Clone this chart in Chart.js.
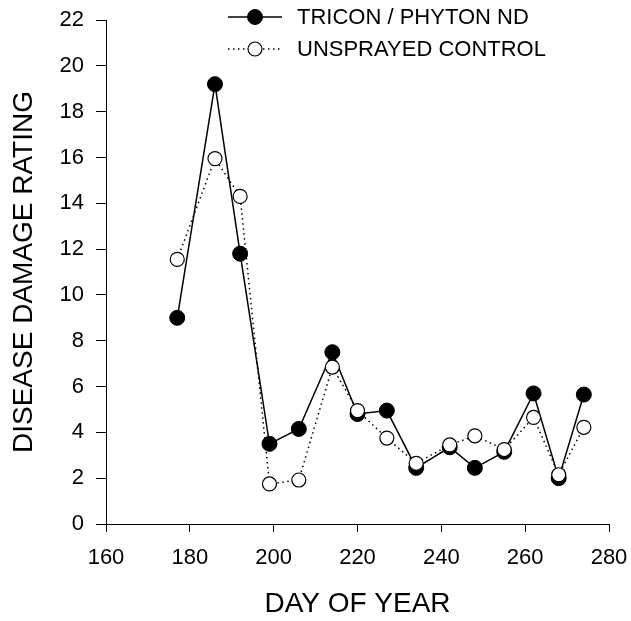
<!DOCTYPE html>
<html>
<head>
<meta charset="utf-8">
<script src="https://cdn.jsdelivr.net/npm/chart.js@4/dist/chart.umd.min.js"></script>
<style>
  body { margin: 0; background: #fff; }
  #wrap { width: 631px; height: 621px; }
</style>
</head>
<body>
<div id="wrap"><canvas id="chart" width="631" height="621"></canvas></div>
<script>
// sampling days and ratings for both treatments
var days = [177, 186, 192, 199, 206, 214, 220, 227, 234, 242, 248, 255, 262, 268, 274];
var tricon = [9.0, 19.2, 11.8, 3.5, 4.15, 7.5, 4.8, 4.95, 2.45, 3.35, 2.45, 3.15, 5.7, 2.0, 5.65];
var control = [11.55, 15.95, 14.3, 1.75, 1.92, 6.85, 4.95, 3.75, 2.65, 3.45, 3.85, 3.25, 4.65, 2.15, 4.22];

var xTicks = [160, 180, 200, 220, 240, 260, 280];
var yTicks = [0, 2, 4, 6, 8, 10, 12, 14, 16, 18, 20, 22];

function points(values) {
  return days.map(function (d, i) { return { x: d, y: values[i] }; });
}

Chart.defaults.font.family = "'Liberation Sans', Arial, sans-serif";
Chart.defaults.color = '#000';

// legend drawn by hand: short line sample with marker, then label
var legendKey = {
  id: 'legendKey',
  afterDraw: function (chart) {
    var ctx = chart.ctx;
    var x0 = 228, x1 = 282, tx = 297;
    var rows = [17, 49];
    chart.data.datasets.forEach(function (ds, i) {
      var y = rows[i];
      ctx.save();
      ctx.strokeStyle = ds.borderColor;
      ctx.lineWidth = ds.borderWidth;
      ctx.setLineDash(ds.borderDash || []);
      ctx.beginPath();
      ctx.moveTo(x0, y);
      ctx.lineTo(x1, y);
      ctx.stroke();
      ctx.setLineDash([]);
      ctx.beginPath();
      ctx.arc((x0 + x1) / 2, y, ds.pointRadius, 0, Math.PI * 2);
      ctx.fillStyle = ds.pointBackgroundColor;
      ctx.fill();
      ctx.lineWidth = ds.pointBorderWidth;
      ctx.strokeStyle = ds.pointBorderColor;
      ctx.stroke();
      ctx.fillStyle = '#000';
      ctx.font = "22px 'Liberation Sans', Arial, sans-serif";
      ctx.textBaseline = 'middle';
      ctx.textAlign = 'left';
      ctx.fillText(ds.label, tx, y + 1);
      ctx.restore();
    });
  }
};

var ctx = document.getElementById('chart').getContext('2d');
var chart = new Chart(ctx, {
  type: 'line',
  data: {
    datasets: [
      {
        label: 'TRICON / PHYTON ND',
        data: points(tricon),
        borderColor: '#000',
        borderWidth: 1.5,
        pointRadius: 7.5,
        pointBackgroundColor: '#000',
        pointBorderColor: '#000',
        pointBorderWidth: 1,
        tension: 0,
        order: 1
      },
      {
        label: 'UNSPRAYED CONTROL',
        data: points(control),
        borderColor: '#000',
        borderWidth: 1.5,
        borderDash: [1.5, 3.5],
        pointRadius: 7,
        pointBackgroundColor: '#fff',
        pointBorderColor: '#000',
        pointBorderWidth: 1.2,
        tension: 0,
        order: 0
      }
    ]
  },
  options: {
    responsive: false,
    animation: false,
    layout: { padding: { top: 20, right: 22, left: 0, bottom: 0 } },
    plugins: {
      legend: { display: false },
      tooltip: { enabled: false }
    },
    scales: {
      x: {
        type: 'linear',
        min: 160,
        max: 280,
        afterFit: function (scale) {
          scale.height = 97;
          scale.paddingLeft = 0;
          scale.paddingRight = 0;
        },
        afterBuildTicks: function (scale) {
          scale.ticks = xTicks.map(function (v) { return { value: v }; });
        },
        grid: { drawOnChartArea: false, drawTicks: true, tickLength: 8, color: '#000' },
        border: { display: true, color: '#000', width: 1 },
        ticks: { font: { size: 22 }, padding: 13, maxRotation: 0 },
        title: {
          display: true,
          text: 'DAY OF YEAR',
          font: { size: 28 },
          padding: { top: 0, bottom: 0 }
        }
      },
      y: {
        min: 0,
        max: 22,
        afterFit: function (scale) {
          scale.width = 106;
          scale.paddingTop = 0;
          scale.paddingBottom = 0;
        },
        afterBuildTicks: function (scale) {
          scale.ticks = yTicks.map(function (v) { return { value: v }; });
        },
        grid: { drawOnChartArea: false, drawTicks: true, tickLength: 10, color: '#000' },
        border: { display: true, color: '#000', width: 1 },
        ticks: { font: { size: 22 }, padding: 12 },
        title: {
          display: true,
          text: 'DISEASE DAMAGE RATING',
          font: { size: 28 },
          padding: { top: 7, bottom: 0 }
        }
      }
    }
  },
  plugins: [legendKey]
});
</script>
</body>
</html>
